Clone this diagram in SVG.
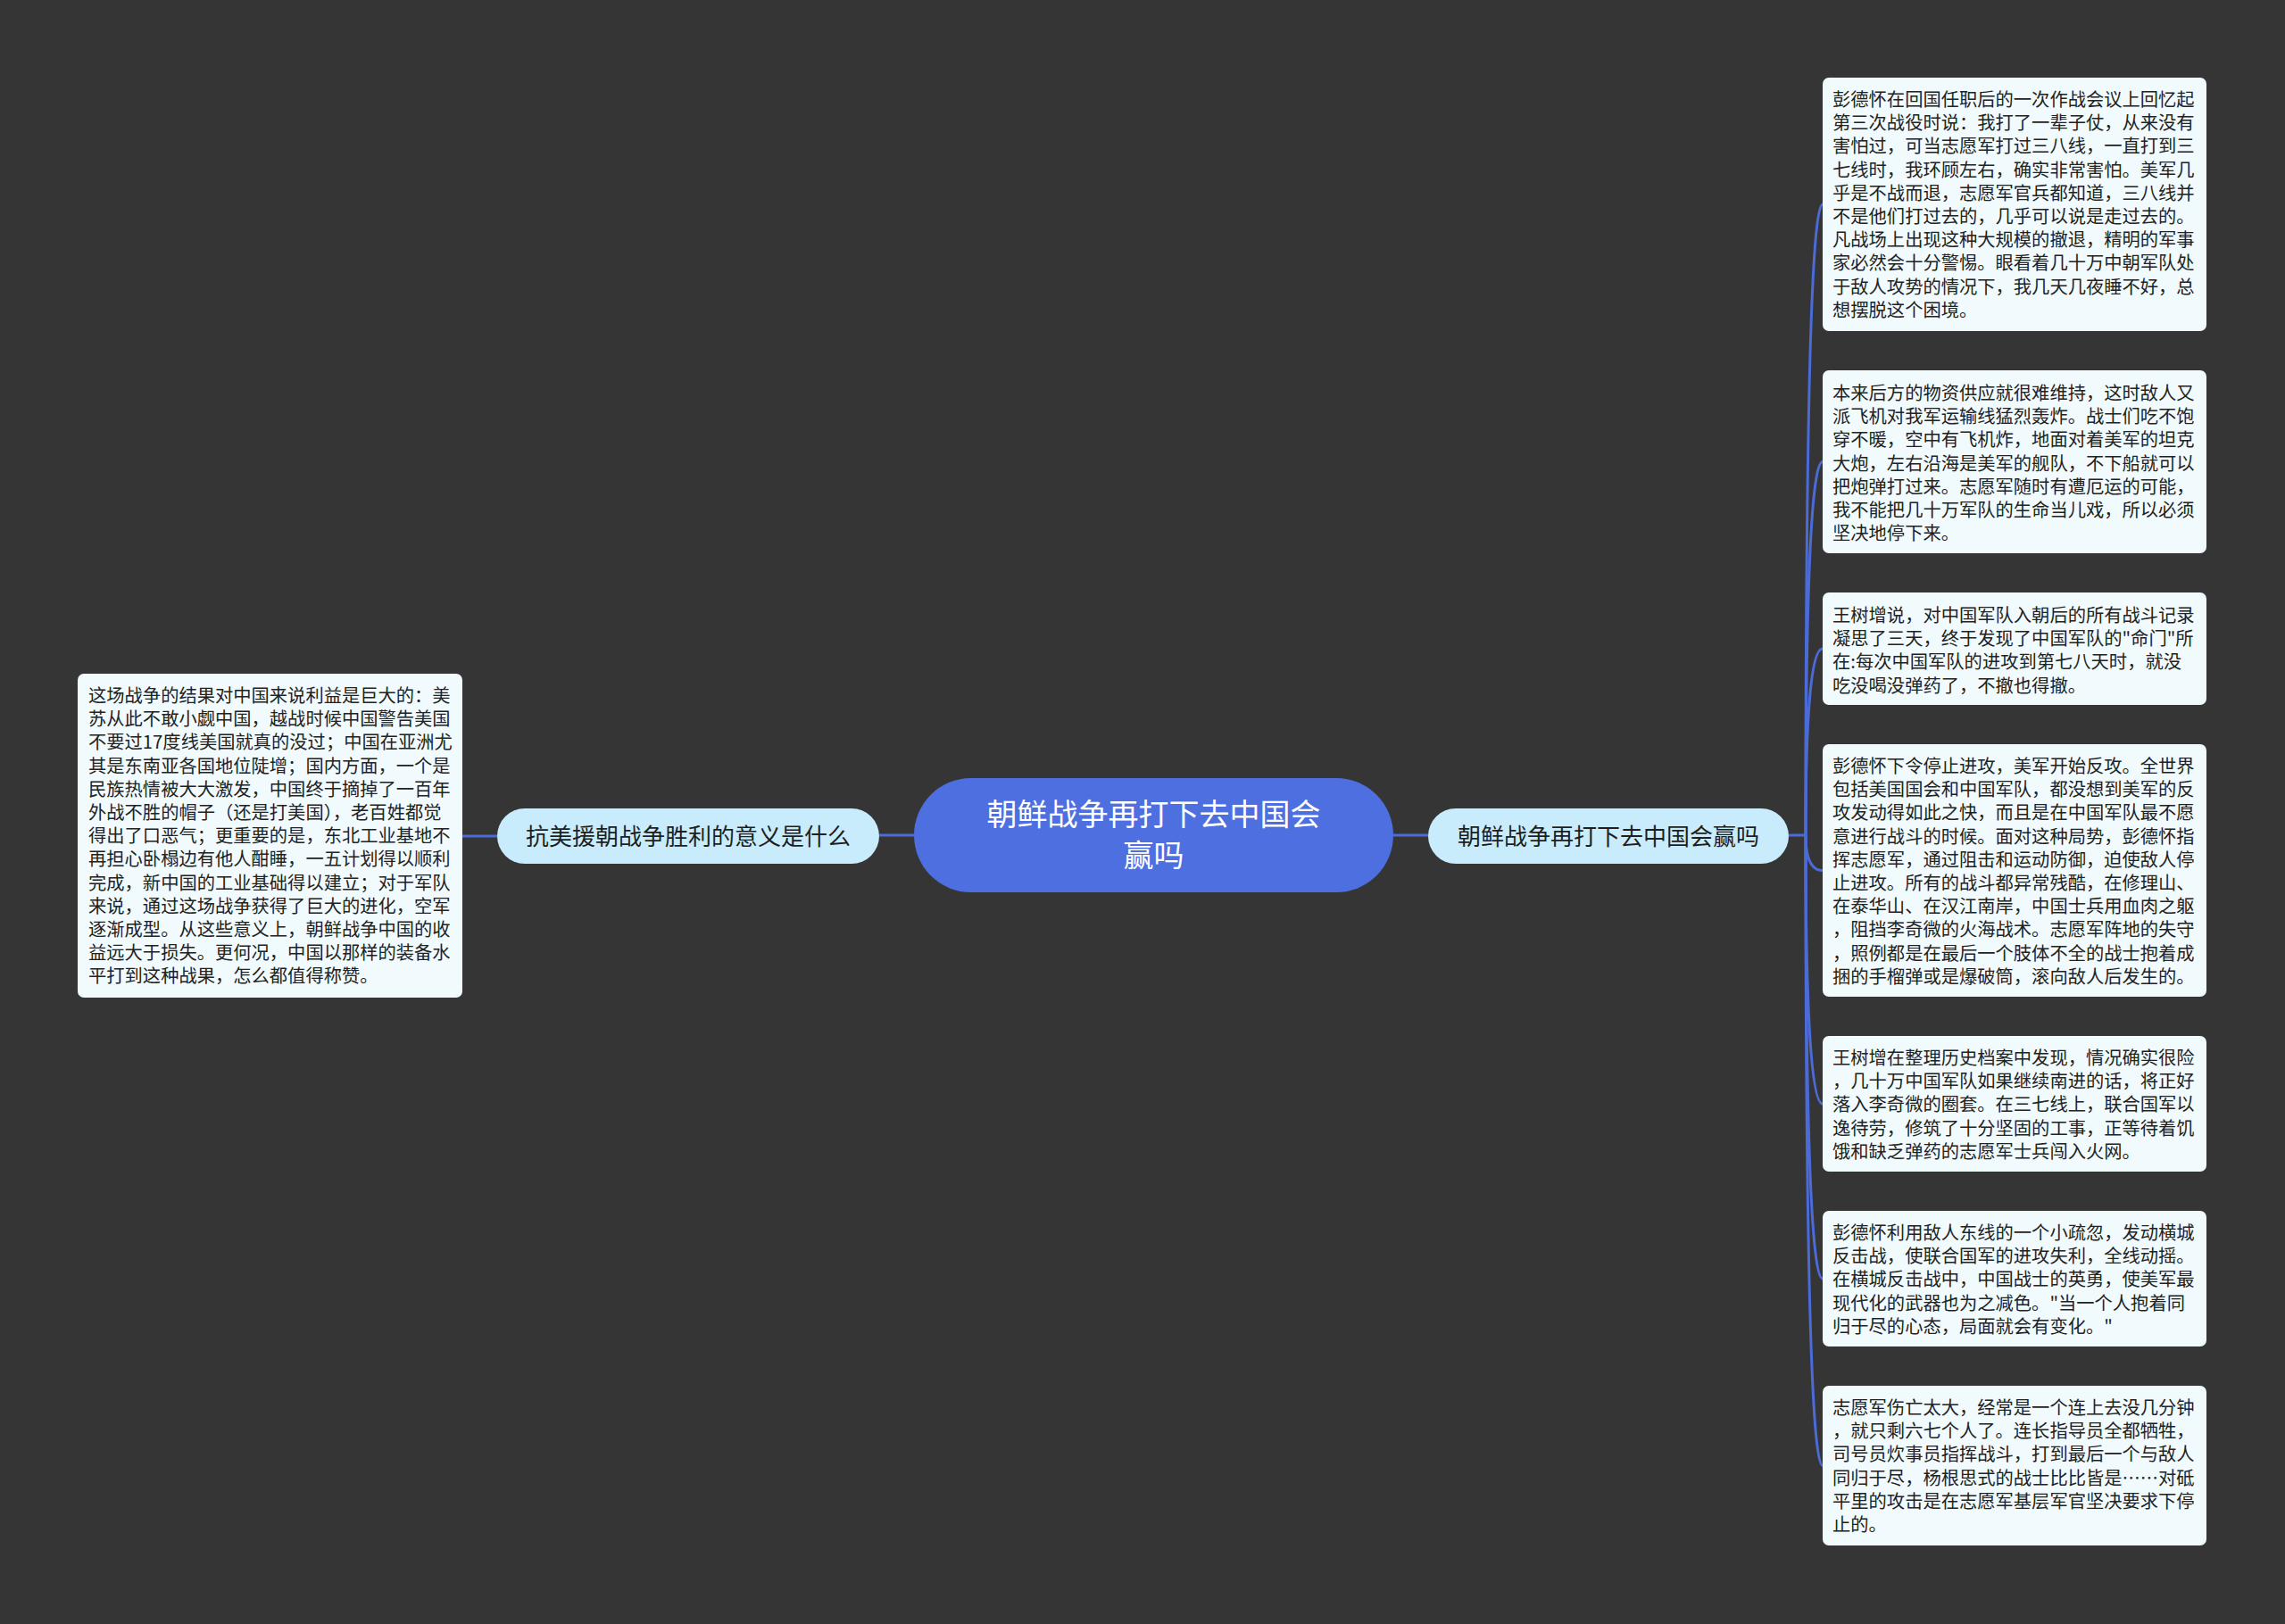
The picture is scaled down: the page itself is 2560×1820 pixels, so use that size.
<svg xmlns="http://www.w3.org/2000/svg" width="2560" height="1820" viewBox="0 0 2560 1820">
<style>
.bg{fill:#363535}
.conn{fill:none;stroke:#4b6bd8;stroke-width:3}
.center{fill:#4e6fe0}
.sub{fill:#c8ecfb}
.box{fill:#f1fbfd}
.ct{font-family:"Noto Sans CJK SC","Noto Sans",sans-serif;font-size:34px;fill:#ffffff;text-anchor:middle}
.st{font-family:"Noto Sans CJK SC","Noto Sans",sans-serif;font-size:26px;fill:#1e1e1e;text-anchor:middle}
.bt{font-family:"Noto Sans CJK SC","Noto Sans",sans-serif;font-size:20.3px;fill:#222222}
</style>
<rect class="bg" x="0" y="0" width="2560" height="1820"/>
<g id="connectors">
<path class="conn" d="M1024 936 H985"/>
<path class="conn" d="M557 937 H518"/>
<path class="conn" d="M1561 936 H1600"/>
<path class="conn" d="M2004 936 H2023"/>
<path class="conn" d="M2023 936 Q2023 229 2042 229"/>
<path class="conn" d="M2023 936 Q2023 517.5 2042 517.5"/>
<path class="conn" d="M2023 936 Q2023 727 2042 727"/>
<path class="conn" d="M2023 936 Q2023 975.5 2042 975.5"/>
<path class="conn" d="M2023 936 Q2023 1237 2042 1237"/>
<path class="conn" d="M2023 936 Q2023 1433 2042 1433"/>
<path class="conn" d="M2023 936 Q2023 1642.5 2042 1642.5"/>
</g>
<g id="node-center">
<rect class="center" x="1024" y="872" width="537" height="128" rx="64"/>
<text class="ct" x="1292.5" y="925">朝鲜战争再打下去中国会</text>
<text class="ct" x="1292.5" y="971">赢吗</text>
</g>
<g id="node-left">
<rect class="sub" x="557" y="906" width="428" height="62" rx="31"/>
<text class="st" x="771" y="947">抗美援朝战争胜利的意义是什么</text>
</g>
<g id="node-right">
<rect class="sub" x="1600" y="906" width="404" height="62" rx="31"/>
<text class="st" x="1802" y="947">朝鲜战争再打下去中国会赢吗</text>
</g>
<g id="box-left">
<rect class="box" x="87" y="755" width="431" height="363" rx="7"/>
<text class="bt" x="99" y="787">
<tspan x="99" dy="0">这场战争的结果对中国来说利益是巨大的：美</tspan>
<tspan x="99" dy="26.2">苏从此不敢小觑中国，越战时候中国警告美国</tspan>
<tspan x="99" dy="26.2">不要过17度线美国就真的没过；中国在亚洲尤</tspan>
<tspan x="99" dy="26.2">其是东南亚各国地位陡增；国内方面，一个是</tspan>
<tspan x="99" dy="26.2">民族热情被大大激发，中国终于摘掉了一百年</tspan>
<tspan x="99" dy="26.2">外战不胜的帽子（还是打美国），老百姓都觉</tspan>
<tspan x="99" dy="26.2">得出了口恶气；更重要的是，东北工业基地不</tspan>
<tspan x="99" dy="26.2">再担心卧榻边有他人酣睡，一五计划得以顺利</tspan>
<tspan x="99" dy="26.2">完成，新中国的工业基础得以建立；对于军队</tspan>
<tspan x="99" dy="26.2">来说，通过这场战争获得了巨大的进化，空军</tspan>
<tspan x="99" dy="26.2">逐渐成型。从这些意义上，朝鲜战争中国的收</tspan>
<tspan x="99" dy="26.2">益远大于损失。更何况，中国以那样的装备水</tspan>
<tspan x="99" dy="26.2">平打到这种战果，怎么都值得称赞。</tspan>
</text>
</g>
<g id="box-r1">
<rect class="box" x="2042" y="87" width="430" height="284" rx="7"/>
<text class="bt" x="2053" y="119">
<tspan x="2053" dy="0">彭德怀在回国任职后的一次作战会议上回忆起</tspan>
<tspan x="2053" dy="26.2">第三次战役时说：我打了一辈子仗，从来没有</tspan>
<tspan x="2053" dy="26.2">害怕过，可当志愿军打过三八线，一直打到三</tspan>
<tspan x="2053" dy="26.2">七线时，我环顾左右，确实非常害怕。美军几</tspan>
<tspan x="2053" dy="26.2">乎是不战而退，志愿军官兵都知道，三八线并</tspan>
<tspan x="2053" dy="26.2">不是他们打过去的，几乎可以说是走过去的。</tspan>
<tspan x="2053" dy="26.2">凡战场上出现这种大规模的撤退，精明的军事</tspan>
<tspan x="2053" dy="26.2">家必然会十分警惕。眼看着几十万中朝军队处</tspan>
<tspan x="2053" dy="26.2">于敌人攻势的情况下，我几天几夜睡不好，总</tspan>
<tspan x="2053" dy="26.2">想摆脱这个困境。</tspan>
</text>
</g>
<g id="box-r2">
<rect class="box" x="2042" y="415" width="430" height="205" rx="7"/>
<text class="bt" x="2053" y="448">
<tspan x="2053" dy="0">本来后方的物资供应就很难维持，这时敌人又</tspan>
<tspan x="2053" dy="26.2">派飞机对我军运输线猛烈轰炸。战士们吃不饱</tspan>
<tspan x="2053" dy="26.2">穿不暖，空中有飞机炸，地面对着美军的坦克</tspan>
<tspan x="2053" dy="26.2">大炮，左右沿海是美军的舰队，不下船就可以</tspan>
<tspan x="2053" dy="26.2">把炮弹打过来。志愿军随时有遭厄运的可能，</tspan>
<tspan x="2053" dy="26.2">我不能把几十万军队的生命当儿戏，所以必须</tspan>
<tspan x="2053" dy="26.2">坚决地停下来。</tspan>
</text>
</g>
<g id="box-r3">
<rect class="box" x="2042" y="664" width="430" height="126" rx="7"/>
<text class="bt" x="2053" y="697">
<tspan x="2053" dy="0">王树增说，对中国军队入朝后的所有战斗记录</tspan>
<tspan x="2053" dy="26.2">凝思了三天，终于发现了中国军队的"命门"所</tspan>
<tspan x="2053" dy="26.2">在:每次中国军队的进攻到第七八天时，就没</tspan>
<tspan x="2053" dy="26.2">吃没喝没弹药了，不撤也得撤。</tspan>
</text>
</g>
<g id="box-r4">
<rect class="box" x="2042" y="834" width="430" height="283" rx="7"/>
<text class="bt" x="2053" y="866">
<tspan x="2053" dy="0">彭德怀下令停止进攻，美军开始反攻。全世界</tspan>
<tspan x="2053" dy="26.2">包括美国国会和中国军队，都没想到美军的反</tspan>
<tspan x="2053" dy="26.2">攻发动得如此之快，而且是在中国军队最不愿</tspan>
<tspan x="2053" dy="26.2">意进行战斗的时候。面对这种局势，彭德怀指</tspan>
<tspan x="2053" dy="26.2">挥志愿军，通过阻击和运动防御，迫使敌人停</tspan>
<tspan x="2053" dy="26.2">止进攻。所有的战斗都异常残酷，在修理山、</tspan>
<tspan x="2053" dy="26.2">在泰华山、在汉江南岸，中国士兵用血肉之躯</tspan>
<tspan x="2053" dy="26.2">，阻挡李奇微的火海战术。志愿军阵地的失守</tspan>
<tspan x="2053" dy="26.2">，照例都是在最后一个肢体不全的战士抱着成</tspan>
<tspan x="2053" dy="26.2">捆的手榴弹或是爆破筒，滚向敌人后发生的。</tspan>
</text>
</g>
<g id="box-r5">
<rect class="box" x="2042" y="1161" width="430" height="152" rx="7"/>
<text class="bt" x="2053" y="1193">
<tspan x="2053" dy="0">王树增在整理历史档案中发现，情况确实很险</tspan>
<tspan x="2053" dy="26.2">，几十万中国军队如果继续南进的话，将正好</tspan>
<tspan x="2053" dy="26.2">落入李奇微的圈套。在三七线上，联合国军以</tspan>
<tspan x="2053" dy="26.2">逸待劳，修筑了十分坚固的工事，正等待着饥</tspan>
<tspan x="2053" dy="26.2">饿和缺乏弹药的志愿军士兵闯入火网。</tspan>
</text>
</g>
<g id="box-r6">
<rect class="box" x="2042" y="1357" width="430" height="152" rx="7"/>
<text class="bt" x="2053" y="1389">
<tspan x="2053" dy="0">彭德怀利用敌人东线的一个小疏忽，发动横城</tspan>
<tspan x="2053" dy="26.2">反击战，使联合国军的进攻失利，全线动摇。</tspan>
<tspan x="2053" dy="26.2">在横城反击战中，中国战士的英勇，使美军最</tspan>
<tspan x="2053" dy="26.2">现代化的武器也为之减色。"当一个人抱着同</tspan>
<tspan x="2053" dy="26.2">归于尽的心态，局面就会有变化。"</tspan>
</text>
</g>
<g id="box-r7">
<rect class="box" x="2042" y="1553" width="430" height="179" rx="7"/>
<text class="bt" x="2053" y="1585">
<tspan x="2053" dy="0">志愿军伤亡太大，经常是一个连上去没几分钟</tspan>
<tspan x="2053" dy="26.2">，就只剩六七个人了。连长指导员全都牺牲，</tspan>
<tspan x="2053" dy="26.2">司号员炊事员指挥战斗，打到最后一个与敌人</tspan>
<tspan x="2053" dy="26.2">同归于尽，杨根思式的战士比比皆是……对砥</tspan>
<tspan x="2053" dy="26.2">平里的攻击是在志愿军基层军官坚决要求下停</tspan>
<tspan x="2053" dy="26.2">止的。</tspan>
</text>
</g>
</svg>
